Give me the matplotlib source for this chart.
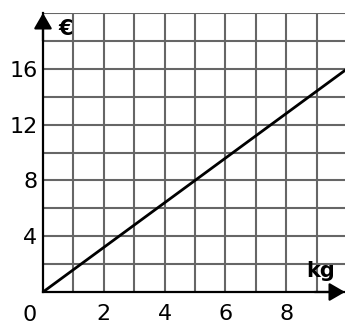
import matplotlib
matplotlib.use("Agg")
import matplotlib.pyplot as plt

# Daten
kg = [0, 10]
euro = [0, 16]
x_ticks = [2, 4, 6, 8]
y_ticks = [4, 8, 12, 16]
x_max = 9.93
y_max = 20

fig = plt.figure(figsize=(3.45, 3.23), dpi=100)
ax = fig.add_axes([43/345, 31/323, 302/345, 279/323])

# Gitter
for gx in range(1, 10):
    ax.axvline(gx, color="#666666", lw=1.5, zorder=1)
for gy in range(2, 21, 2):
    ax.axhline(gy, color="#666666", lw=1.5, zorder=1)

ax.plot(kg, euro, color="black", lw=2.0, zorder=3)

ax.set_xlim(0, x_max)
ax.set_ylim(0, y_max)

for s in ["top", "right"]:
    ax.spines[s].set_visible(False)
for s in ["left", "bottom"]:
    ax.spines[s].set_linewidth(1.6)
    ax.spines[s].set_zorder(4)

ax.set_xticks(x_ticks)
ax.set_yticks(y_ticks)
ax.tick_params(axis="x", length=0, pad=9, labelsize=16)
ax.tick_params(axis="y", length=0, pad=4, labelsize=16)
ax.set_xticks([2], minor=True)
ax.set_yticks([4], minor=True)
ax.tick_params(which="minor", length=7, width=2.2, direction="inout", color="black")

# Pfeile (Spitze genau am Achsenende)
pfeil = dict(arrowstyle="-|>,head_length=0.95,head_width=0.55", color="black", lw=1.6,
             shrinkA=0, shrinkB=0)
ax.annotate("", xy=(0, y_max), xytext=(0, y_max - 2), arrowprops=pfeil,
            annotation_clip=False, zorder=5)
ax.annotate("", xy=(x_max, 0), xytext=(x_max - 1, 0), arrowprops=pfeil,
            annotation_clip=False, zorder=5)

ax.annotate("0", xy=(0, 0), xytext=(-9.5, -9.4), textcoords="offset points",
            ha="center", va="top", fontsize=16)
ax.annotate("€", xy=(0, y_max), xytext=(16, -11.5), textcoords="offset points",
            ha="center", va="center", fontsize=15, fontweight="bold")
ax.annotate("kg", xy=(x_max, 0), xytext=(-7, 11), textcoords="offset points",
            ha="right", va="baseline", fontsize=15, fontweight="bold")

fig.savefig("out.png", dpi=100)
